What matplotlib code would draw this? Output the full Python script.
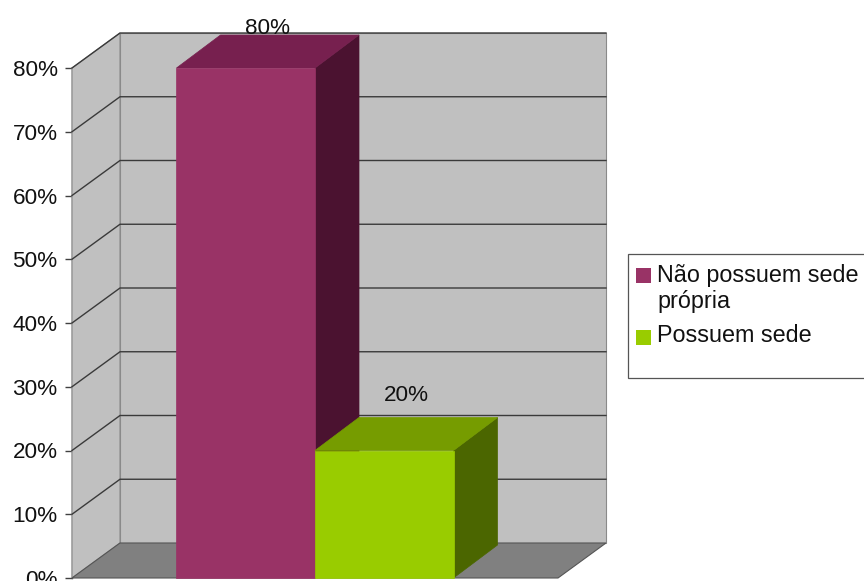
import matplotlib
matplotlib.use("Agg")
import matplotlib.pyplot as plt
from matplotlib.patches import Polygon, Rectangle
import matplotlib.transforms as mtransforms

# ---- data ----
series_names = ["Não possuem sede\nprópria", "Possuem sede"]
values = [0.80, 0.20]
value_labels = ["80%", "20%"]
yticks = [0.0, 0.1, 0.2, 0.3, 0.4, 0.5, 0.6, 0.7, 0.8]
ytick_labels = ["0%", "10%", "20%", "30%", "40%", "50%", "60%", "70%", "80%"]

# ---- style ----
front_colors = ["#993366", "#99cc00"]
top_colors = ["#77204f", "#769c00"]
side_colors = ["#4b1230", "#4b6600"]
wall_color = "#c0c0c0"
floor_color = "#808080"
grid_color = "#3a3a3a"
FONT = "Liberation Sans"
FS = 16.2
LFS = 16.8

W, H = 864, 581
fig = plt.figure(figsize=(W / 100, H / 100), dpi=100)
fig.patch.set_facecolor("white")

# front plane axes (pixel geometry)
x0, x1 = 72, 558
y_bot, y_top = 578, 68
ax = fig.add_axes([x0 / W, (H - y_bot) / H, (x1 - x0) / W, (y_bot - y_top) / H])
ax.set_xlim(0, 1)
ax.set_ylim(0, 0.8)
ax.patch.set_visible(False)
for s in ["top", "right", "bottom"]:
    ax.spines[s].set_visible(False)
ax.spines["left"].set_color("#404040")
ax.spines["left"].set_linewidth(1.0)
ax.set_xticks([])
ax.set_yticks(yticks)
ax.set_yticklabels(ytick_labels, fontfamily=FONT, fontsize=FS, color="#111111")
ax.tick_params(axis="y", length=5.3, width=1.0, color="#404040", pad=5)

tD = ax.transData
wall_shift = mtransforms.ScaledTranslation(0.48, 0.35, fig.dpi_scale_trans)
bar_shift = mtransforms.ScaledTranslation(0.44, 0.33, fig.dpi_scale_trans)
tB = tD + wall_shift
ymax = yticks[-1]


def poly_mixed(pts, **kw):
    """pts: list of (x, y, plane) in data coords; converted to display."""
    disp = []
    for x, y, depth in pts:
        if depth == "wall":
            disp.append(tB.transform((x, y)))
        elif depth == "bar":
            disp.append((tD + bar_shift).transform((x, y)))
        else:
            disp.append(tD.transform((x, y)))
    p = Polygon(disp, closed=True, transform=None, clip_on=False, **kw)
    fig.add_artist(p)
    return p


# back wall
poly_mixed([(0, 0, "wall"), (1, 0, "wall"), (1, ymax, "wall"), (0, ymax, "wall")],
           facecolor=wall_color, edgecolor="#8a8a8a", linewidth=0.8, zorder=1)
# left side wall
poly_mixed([(0, 0, "f"), (0, 0, "wall"), (0, ymax, "wall"), (0, ymax, "f")],
           facecolor=wall_color, edgecolor="#8a8a8a", linewidth=0.8, zorder=1)
# floor
poly_mixed([(0, 0, "f"), (1, 0, "f"), (1, 0, "wall"), (0, 0, "wall")],
           facecolor=floor_color, edgecolor="#555555", linewidth=0.8, zorder=2)

# gridlines on back and side walls
for yv in yticks[1:]:
    a = tD.transform((0, yv))
    b = tB.transform((0, yv))
    c = tB.transform((1, yv))
    ln = plt.Line2D([a[0], b[0], c[0]], [a[1], b[1], c[1]], transform=None,
                    color=grid_color, linewidth=1.0, zorder=3)
    fig.add_artist(ln)

# bars
bar_w = 0.285
centers = [0.5 - bar_w / 2, 0.5 + bar_w / 2]
for i, (c, v) in enumerate(zip(centers, values)):
    l, r = c - bar_w / 2, c + bar_w / 2
    z = 5 + i
    # side face
    poly_mixed([(r, 0, "f"), (r, 0, "bar"), (r, v, "bar"), (r, v, "f")],
               facecolor=side_colors[i], edgecolor=side_colors[i], linewidth=0.5, zorder=z)
    # top face
    poly_mixed([(l, v, "f"), (r, v, "f"), (r, v, "bar"), (l, v, "bar")],
               facecolor=top_colors[i], edgecolor=top_colors[i], linewidth=0.5, zorder=z)
    # front face
    poly_mixed([(l, 0, "f"), (r, 0, "f"), (r, v, "f"), (l, v, "f")],
               facecolor=front_colors[i], edgecolor=front_colors[i], linewidth=0.5, zorder=z)

# value labels (centred over the top face)
label_offsets_pt = [5, 16]
for i, (c, v) in enumerate(zip(centers, values)):
    px, py = (tD + mtransforms.ScaledTranslation(0.22, 0.33, fig.dpi_scale_trans)).transform((c, v))
    py += label_offsets_pt[i] * 100 / 72
    fig.text(px / W, py / H, value_labels[i], ha="center", va="center",
             fontfamily=FONT, fontsize=FS, color="#111111", zorder=10)

# legend (manual)
lx0, ly_top, ly_bot = 628, 254, 378
fig.add_artist(Rectangle((lx0 / W, (H - ly_bot) / H), (W + 10 - lx0) / W, (ly_bot - ly_top) / H,
                         transform=fig.transFigure, facecolor="white", edgecolor="#555555",
                         linewidth=0.9, clip_on=False, zorder=8))
square_tops = [268, 330]
text_y = [264, 336]
text_va = ["top", "center"]
for i, name in enumerate(series_names):
    sq = Rectangle((636 / W, (H - square_tops[i] - 15) / H), 15 / W, 15 / H,
                   transform=fig.transFigure, facecolor=front_colors[i], edgecolor="none", zorder=9)
    fig.add_artist(sq)
    fig.text(657 / W, (H - text_y[i]) / H, name, ha="left", va=text_va[i],
             fontfamily=FONT, fontsize=LFS, color="#111111", linespacing=1.15, zorder=10)

fig.savefig("out.png", dpi=100)
